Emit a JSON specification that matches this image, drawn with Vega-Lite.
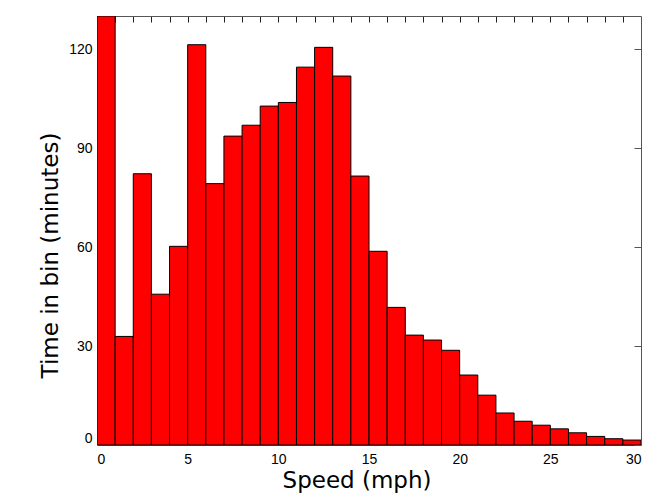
{
  "$schema": "https://vega.github.io/schema/vega-lite/v6.json",
  "width": 544,
  "height": 429,
  "autosize": {"type": "none"},
  "padding": {"left": 97, "top": 16, "right": 24, "bottom": 51},
  "background": "#ffffff",
  "config": {"view": {"stroke": null}, "font": "DejaVu Sans"},
  "data": {
    "values": [
      {"speed": 0, "speed_end": 1, "minutes": 130},
      {"speed": 1, "speed_end": 2, "minutes": 32.9},
      {"speed": 2, "speed_end": 3, "minutes": 82.2},
      {"speed": 3, "speed_end": 4, "minutes": 45.7},
      {"speed": 4, "speed_end": 5, "minutes": 60.2},
      {"speed": 5, "speed_end": 6, "minutes": 121.3},
      {"speed": 6, "speed_end": 7, "minutes": 79.2},
      {"speed": 7, "speed_end": 8, "minutes": 93.6},
      {"speed": 8, "speed_end": 9, "minutes": 96.9},
      {"speed": 9, "speed_end": 10, "minutes": 102.7},
      {"speed": 10, "speed_end": 11, "minutes": 103.8},
      {"speed": 11, "speed_end": 12, "minutes": 114.5},
      {"speed": 12, "speed_end": 13, "minutes": 120.5},
      {"speed": 13, "speed_end": 14, "minutes": 111.8},
      {"speed": 14, "speed_end": 15, "minutes": 81.5},
      {"speed": 15, "speed_end": 16, "minutes": 58.7},
      {"speed": 16, "speed_end": 17, "minutes": 41.7},
      {"speed": 17, "speed_end": 18, "minutes": 33.3},
      {"speed": 18, "speed_end": 19, "minutes": 31.8},
      {"speed": 19, "speed_end": 20, "minutes": 28.7},
      {"speed": 20, "speed_end": 21, "minutes": 21.2},
      {"speed": 21, "speed_end": 22, "minutes": 15.1},
      {"speed": 22, "speed_end": 23, "minutes": 9.7},
      {"speed": 23, "speed_end": 24, "minutes": 7.2},
      {"speed": 24, "speed_end": 25, "minutes": 6.0},
      {"speed": 25, "speed_end": 26, "minutes": 4.9},
      {"speed": 26, "speed_end": 27, "minutes": 3.7},
      {"speed": 27, "speed_end": 28, "minutes": 2.6},
      {"speed": 28, "speed_end": 29, "minutes": 1.9},
      {"speed": 29, "speed_end": 30, "minutes": 1.5}
    ]
  },
  "layer": [
    {
      "mark": {"type": "bar", "opacity": 0},
      "encoding": {
        "x": {
          "field": "speed", "type": "quantitative",
          "scale": {"domain": [0, 30], "nice": false, "zero": false},
          "axis": {
            "orient": "top", "title": null, "labels": false, "grid": false,
            "values": [1,2,3,4,5,6,7,8,9,10,11,12,13,14,15,16,17,18,19,20,21,22,23,24,25,26,27,28,29],
            "tickSize": -6, "tickColor": "#222222", "tickWidth": 1,
            "domainColor": "#555555", "domainWidth": 1
          }
        },
        "x2": {"field": "speed_end"},
        "y": {
          "field": "minutes", "type": "quantitative",
          "scale": {"domain": [0, 130], "nice": false},
          "axis": {
            "orient": "right", "title": null, "labels": false, "grid": false,
            "values": [0, 30, 60, 90, 120],
            "tickSize": -7, "tickColor": "#555555", "tickWidth": 1,
            "domainColor": "#555555", "domainWidth": 1
          }
        },
        "y2": {"datum": 0}
      }
    },
    {
      "mark": {"type": "bar", "fill": "#ff0000", "stroke": "#000000", "strokeWidth": 1, "clip": true},
      "encoding": {
        "x": {
          "field": "speed", "type": "quantitative",
          "scale": {"domain": [0, 30], "nice": false, "zero": false},
          "axis": {
            "orient": "bottom", "title": "Speed (mph)", "grid": false,
            "values": [0, 5, 10, 15, 20, 25, 30], "format": "d",
            "ticks": false, "tickSize": 0,
            "domainColor": "#333333", "domainWidth": 1,
            "labelFont": "Liberation Sans", "labelFontSize": 14, "labelColor": "#000000",
            "labelPadding": 7,
            "titleFont": "DejaVu Sans", "titleFontSize": 23, "titleFontWeight": "normal", "titleColor": "#000000",
            "titleX": 259.5, "titleY": 42, "titleAlign": "center", "titleBaseline": "alphabetic"
          }
        },
        "x2": {"field": "speed_end"},
        "y": {
          "field": "minutes", "type": "quantitative",
          "scale": {"domain": [0, 130], "nice": false},
          "axis": {
            "orient": "left", "title": "Time in bin (minutes)", "grid": false,
            "values": [0, 30, 60, 90, 120], "format": "d",
            "ticks": false, "tickSize": 0,
            "domainColor": "#555555", "domainWidth": 1,
            "labelFont": "Liberation Sans", "labelFontSize": 14, "labelColor": "#000000",
            "labelPadding": 5, "labelFlush": true,
            "titleFont": "DejaVu Sans", "titleFontSize": 23, "titleFontWeight": "normal", "titleColor": "#000000",
            "titleX": -40, "titleY": 239, "titleAlign": "center", "titleBaseline": "alphabetic", "titleAngle": -90
          }
        },
        "y2": {"datum": 0}
      }
    }
  ],
  "resolve": {"axis": {"x": "independent", "y": "independent"}}
}
